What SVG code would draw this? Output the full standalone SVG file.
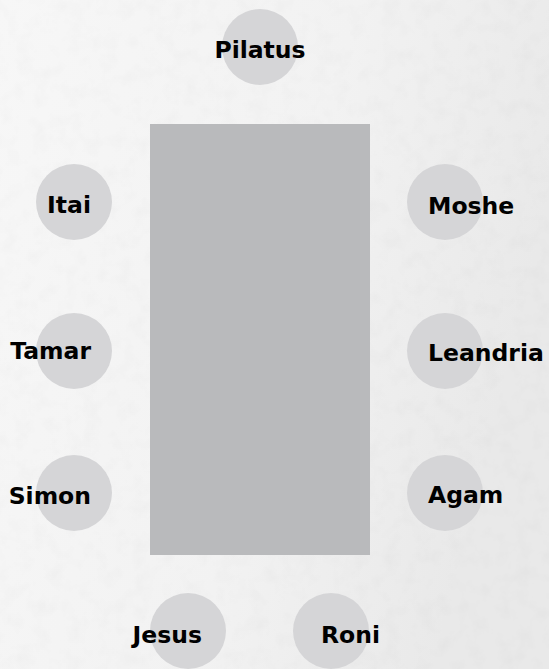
<svg xmlns="http://www.w3.org/2000/svg" width="549" height="669" viewBox="0 0 549 669">
  <defs>
    <filter id="paper" x="0" y="0" width="100%" height="100%">
      <feTurbulence type="fractalNoise" baseFrequency="0.06" numOctaves="4" seed="7" result="n"/>
      <feColorMatrix in="n" type="matrix" values="0 0 0 0 0  0 0 0 0 0  0 0 0 0 0  0 0 0 -0.9 0.55" result="a"/>
      <feComposite in="a" in2="SourceGraphic" operator="in"/>
    </filter>
    <linearGradient id="bgGrad" x1="0" y1="0" x2="1" y2="0.3">
      <stop offset="0" stop-color="#f7f7f7"/>
      <stop offset="0.6" stop-color="#f2f2f2"/>
      <stop offset="1" stop-color="#e9e9e9"/>
    </linearGradient>
  </defs>
  <style>
    .seat { fill: #d5d5d7; }
    .name { font-family: "DejaVu Sans", "Liberation Sans", sans-serif; font-weight: bold; font-size: 23.5px; fill: #000; }
    .table { fill: #b9babc; }
  </style>
  <rect width="549" height="669" fill="url(#bgGrad)"/>
  <rect width="549" height="669" fill="#000" opacity="0.035" filter="url(#paper)"/>

  <g id="table">
    <rect class="table" x="150" y="124" width="220" height="431"/>
  </g>

  <g id="connectors"/>

  <g id="node-pilatus">
    <circle class="seat" cx="260" cy="47" r="38"/>
    <text class="name" x="260" y="58" text-anchor="middle">Pilatus</text>
  </g>
  <g id="node-itai">
    <circle class="seat" cx="74" cy="202" r="38"/>
    <text class="name" x="91" y="213" text-anchor="end">Itai</text>
  </g>
  <g id="node-moshe">
    <circle class="seat" cx="445" cy="202" r="38"/>
    <text class="name" x="428" y="214">Moshe</text>
  </g>
  <g id="node-tamar">
    <circle class="seat" cx="74" cy="351" r="38"/>
    <text class="name" x="91" y="359" text-anchor="end">Tamar</text>
  </g>
  <g id="node-leandria">
    <circle class="seat" cx="445" cy="351" r="38"/>
    <text class="name" x="428" y="361">Leandria</text>
  </g>
  <g id="node-simon">
    <circle class="seat" cx="74" cy="493" r="38"/>
    <text class="name" x="91" y="504" text-anchor="end">Simon</text>
  </g>
  <g id="node-agam">
    <circle class="seat" cx="445" cy="493" r="38"/>
    <text class="name" x="428" y="503">Agam</text>
  </g>
  <g id="node-jesus">
    <circle class="seat" cx="188" cy="631" r="38"/>
    <text class="name" x="202" y="643" text-anchor="end">Jesus</text>
  </g>
  <g id="node-roni">
    <circle class="seat" cx="331" cy="631" r="38"/>
    <text class="name" x="321" y="643">Roni</text>
  </g>
</svg>
